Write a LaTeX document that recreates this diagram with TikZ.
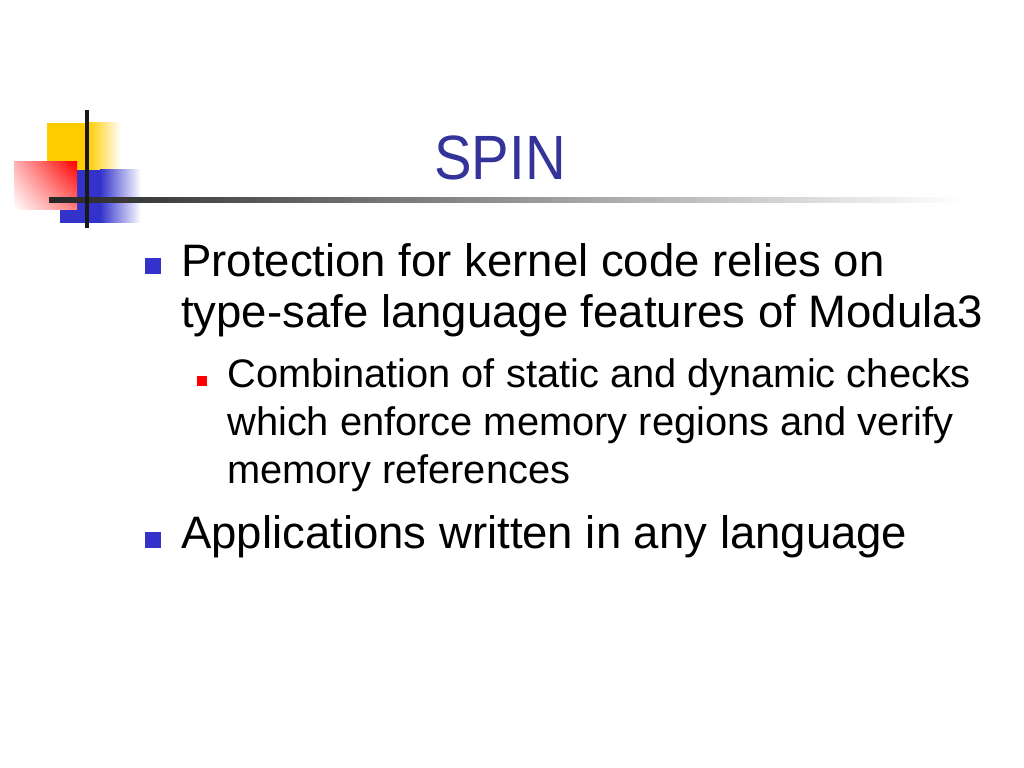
\documentclass[tikz,border=0pt]{standalone}
\usepackage{fontspec}
\setmainfont{Liberation Sans}
\usetikzlibrary{positioning,shadings}
\definecolor{titleBlue}{HTML}{333399}
\definecolor{bulletBlue}{HTML}{3333CC}
\definecolor{bulletRed}{HTML}{FF0000}
\definecolor{logoYellow}{HTML}{FFCC00}
\definecolor{logoBlue}{HTML}{3333CC}

\begin{document}
\begin{tikzpicture}[x=0.703125pt,y=-0.703125pt]

    \tikzstyle{commonText}=[inner sep=0pt, align=left, anchor=base west, text=black]
    \tikzstyle{titleText}=[inner sep=0pt, anchor=base, text=titleBlue, font=\fontsize{44}{48}\selectfont]
    \tikzstyle{mainItem}=[commonText, font=\fontsize{32}{35.2}\selectfont]
    \tikzstyle{subItem}=[commonText, font=\fontsize{28}{33.4}\selectfont]
    \tikzstyle{mainBullet}=[rectangle, fill=bulletBlue, inner sep=0pt, minimum size=11.25pt]
    \tikzstyle{subBullet}=[rectangle, fill=bulletRed, inner sep=0pt, minimum size=7.7pt]

    % Page
    \useasboundingbox (0,0) rectangle (1024,768);
    \fill[white] (0,0) rectangle (1024,768);

    % Logo
    \fill[logoYellow] (47,123) rectangle (88,170);
    \shade[left color=logoYellow, right color=white] (88,123) rectangle (121,170);
    \fill[logoBlue] (60,170) rectangle (100,223);
    \shade[left color=logoBlue, right color=white] (100,170) rectangle (141,223);
    \begin{scope}[yscale=-1]
        % y turned upwards again, so the corners of the shading sit where they are named
        \shade[upper right=bulletRed, lower left=white, upper left=red!30, lower right=red!50] (14,-162) rectangle (77,-210);
    \end{scope}
    \shade[left color=black!85, right color=white] (49,198) rectangle (962,203);
    \fill[black!90] (85,110) rectangle (89,228);

    % Title
    \node at (500,180) [titleText] (title) {\scalebox{0.9}[1]{SPIN}};

    % Items (anchored at the baseline of their last line)
    \node at (153,266) [mainBullet] (b1) {};
    \node at (181,327) [mainItem]   (t1) {Protection for kernel code relies on\\type-safe language features of Modula3};
    \node at (202,381) [subBullet]  (b2) {};
    \node at (227,483) [subItem]    (t2) {Combination of static and dynamic checks\\which enforce memory regions and verify\\memory references};
    \node at (153,540) [mainBullet] (b3) {};
    \node at (181,548) [mainItem]   (t3) {Applications written in any language};

\end{tikzpicture}
\end{document}
